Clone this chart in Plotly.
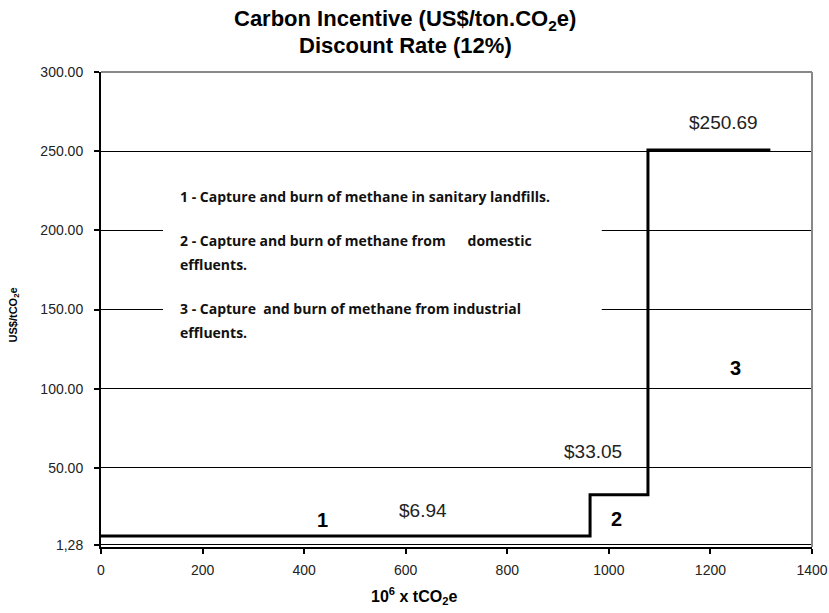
import plotly.graph_objects as go

# Cumulative abatement (10^6 tCO2e) where each option ends, and its incentive (US$/tCO2e)
step_x = [0, 963, 1077, 1318]
step_y = [6.94, 33.05, 250.69, 250.69]
option_ids = ["1", "2", "3"]
option_lines = [
    "1 - Capture and burn of methane in sanitary landfills.",
    "2 - Capture and burn of methane from &nbsp;&nbsp;&nbsp;&nbsp; domestic",
    "effluents.",
    "3 - Capture &nbsp;and burn of methane from industrial",
    "effluents.",
]
y_tick_vals = [1.28, 50, 100, 150, 200, 250, 300]
y_tick_text = ["1,28", "50.00", "100.00", "150.00", "200.00", "250.00", "300.00"]
x_tick_vals = [0, 200, 400, 600, 800, 1000, 1200, 1400]

ARIAL = "Arial, Liberation Sans"

fig = go.Figure()
fig.add_trace(go.Scatter(
    x=step_x, y=step_y, mode="lines", line_shape="hv",
    line=dict(color="black", width=3), showlegend=False, hoverinfo="skip",
))

# White box holding the option descriptions, drawn over the gridlines
fig.add_shape(type="rect", xref="x", yref="y", x0=122, x1=986, y0=128, y1=238,
              fillcolor="white", line_width=0, layer="between")

ann = []
# value labels for each step: (x position, step index, lift above the step in px)
val_pos = [(634, 0, 26), (969, 1, 43), (1226, 2, 28)]
for px, i, shift in val_pos:
    ann.append(dict(x=px, y=step_y[i], text=f"${step_y[i]:.2f}", yshift=shift,
                    xref="x", yref="y", showarrow=False,
                    font=dict(family=ARIAL, size=19, color="#222")))

# option numbers
num_pos = [(437, 17), (1016, 17.5), (1250, 113)]
for oid, (px, py) in zip(option_ids, num_pos):
    ann.append(dict(x=px, y=py, xref="x", yref="y", text=f"<b>{oid}</b>",
                    showarrow=False,
                    font=dict(family=ARIAL, size=20, color="black")))

# option descriptions
desc_y = [221.5, 193.7, 178.5, 150.6, 135.4]
for t, yy in zip(option_lines, desc_y):
    ann.append(dict(x=152, y=yy, xref="x", yref="y", text=f"<b>{t}</b>",
                    showarrow=False, xanchor="left", yanchor="middle", align="left",
                    font=dict(family="Open Sans", size=14, color="#111")))

# chart title, two lines
ann.append(dict(x=0.428, y=1.109, xref="paper", yref="paper", showarrow=False,
                xanchor="center", yanchor="middle",
                text="<b>Carbon Incentive (US$/ton.CO<sub>2</sub>e)</b>",
                font=dict(family=ARIAL, size=22, color="black")))
ann.append(dict(x=0.428, y=1.056, xref="paper", yref="paper", showarrow=False,
                xanchor="center", yanchor="middle",
                text="<b>Discount Rate (12%)</b>",
                font=dict(family=ARIAL, size=22, color="black")))

# axis titles
ann.append(dict(x=0.44, y=-0.103, xref="paper", yref="paper", showarrow=False,
                xanchor="center", yanchor="middle",
                text="<b>10<sup>6</sup> x tCO<sub>2</sub>e</b>",
                font=dict(family=ARIAL, size=16, color="black")))
ann.append(dict(x=-0.122, y=0.488, xref="paper", yref="paper", showarrow=False,
                xanchor="center", yanchor="middle",
                text="<b>US$/tCO<sub>2</sub>e</b>", textangle=-90,
                font=dict(family=ARIAL, size=11, color="black")))

fig.update_layout(
    width=829, height=613,
    margin=dict(l=101, r=17, t=72, b=66, autoexpand=False),
    paper_bgcolor="white", plot_bgcolor="white",
    annotations=ann,
    xaxis=dict(
        range=[0, 1400], tickvals=x_tick_vals, showgrid=False, automargin=False,
        showline=True, linecolor="black", linewidth=2,
        mirror=False, ticks="outside", ticklen=5, tickwidth=2, tickcolor="black",
        ticklabelstandoff=4,
        tickfont=dict(family=ARIAL, size=14, color="#222"),
        zeroline=False,
    ),
    yaxis=dict(
        range=[0, 300], tickvals=y_tick_vals, ticktext=y_tick_text, automargin=False,
        showgrid=True, gridcolor="black", gridwidth=1,
        showline=True, linecolor="black", linewidth=2,
        ticks="outside", ticklen=5, tickwidth=2, tickcolor="black",
        ticklabelstandoff=8,
        tickfont=dict(family=ARIAL, size=14, color="#222"),
        zeroline=False,
    ),
)

# gray frame on top and right
fig.add_shape(type="line", xref="paper", yref="paper", x0=0, x1=1, y0=1, y1=1,
              line=dict(color="#888", width=2), layer="above")
fig.add_shape(type="line", xref="paper", yref="paper", x0=1, x1=1, y0=0, y1=1,
              line=dict(color="#888", width=2), layer="above")

fig.write_html("out.html")
